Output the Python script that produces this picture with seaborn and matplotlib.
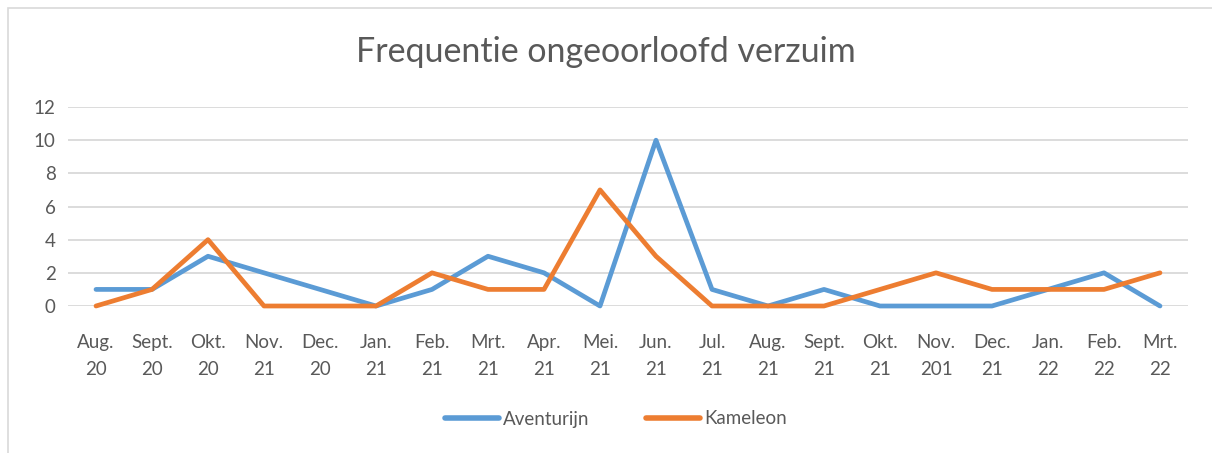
import numpy as np
import pandas as pd
import seaborn as sns
import matplotlib.pyplot as plt
from matplotlib.patches import Rectangle

# data
maanden = ['Aug.\n20', 'Sept.\n20', 'Okt.\n20', 'Nov.\n21', 'Dec.\n20', 'Jan.\n21', 'Feb.\n21',
           'Mrt.\n21', 'Apr.\n21', 'Mei.\n21', 'Jun.\n21', 'Jul.\n21', 'Aug.\n21', 'Sept.\n21',
           'Okt.\n21', 'Nov.\n201', 'Dec.\n21', 'Jan.\n22', 'Feb.\n22', 'Mrt.\n22']
aventurijn = [1, 1, 3, 2, 1, 0, 1, 3, 2, 0, 10, 1, 0, 1, 0, 0, 0, 1, 2, 0]
kameleon = [0, 1, 4, 0, 0, 0, 2, 1, 1, 7, 3, 0, 0, 0, 1, 2, 1, 1, 1, 2]

df = pd.DataFrame({
    'pos': list(range(len(maanden))) * 2,
    'aantal': aventurijn + kameleon,
    'school': ['Aventurijn'] * len(maanden) + ['Kameleon'] * len(maanden),
})

sns.set_style('white')
plt.rcParams['font.family'] = ['Lato', 'DejaVu Sans']
tekst = '#595959'

fig = plt.figure(figsize=(12.12, 4.53), dpi=100)
ax = fig.add_axes([68 / 1212, 1 - 306 / 453, 1120 / 1212, 199 / 453])

sns.lineplot(data=df, x='pos', y='aantal', hue='school', sort=False,
             palette={'Aventurijn': '#5B9BD5', 'Kameleon': '#ED7D31'},
             linewidth=3.4, ax=ax, clip_on=False, zorder=3)

ax.set_xlim(-0.5, len(maanden) - 0.5)
ax.set_ylim(0, 12)
ax.set_yticks(range(0, 13, 2))
ax.set_xticks(range(len(maanden)))
ax.set_xticklabels(maanden, linespacing=1.75)
ax.tick_params(axis='both', length=0, labelsize=13.5, colors=tekst)
ax.tick_params(axis='x', pad=20)
ax.tick_params(axis='y', pad=9)
ax.grid(axis='y', color='#D9D9D9', linewidth=1.3)
ax.set_xlabel('')
ax.set_ylabel('')
for s in ax.spines.values():
    s.set_visible(False)

fig.text(0.5, 1 - 52 / 453, 'Frequentie ongeoorloofd verzuim', ha='center', va='center',
         fontsize=24.5, color=tekst)

leg = ax.legend(loc='center', bbox_to_anchor=(0.489, (306 - 419) / 199), ncol=2, frameon=False,
                fontsize=13.5, handlelength=2.9, columnspacing=3.0, handletextpad=0.2)
for t in leg.get_texts():
    t.set_color(tekst)
for h in leg.get_lines():
    h.set_linewidth(4)
    h.set_solid_capstyle('round')

fig.patches.append(Rectangle((8 / 1212, -0.2), 1.2, 1.2 - 8 / 453, transform=fig.transFigure,
                             fill=False, edgecolor='#D9D9D9', linewidth=1.2))

fig.savefig('out.png', dpi=100)
